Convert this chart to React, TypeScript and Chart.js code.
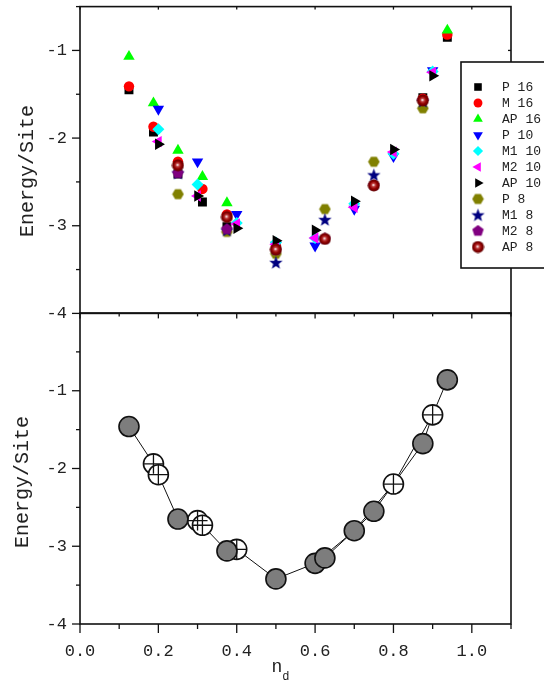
import React, { useEffect, useRef } from 'react';
import { Chart, registerables } from 'chart.js';
import { drawPoint } from 'chart.js/helpers';

Chart.register(...registerables);

const FONT = '"Liberation Mono", "Courier New", monospace';

// ---------- top panel data ----------
const N16 = [0.125, 0.1875, 0.25, 0.3125, 0.375, 0.5, 0.875, 0.9375];
const P16_Y = [-1.45, -1.93, -2.41, -2.73, -3.01, -3.25, -1.54, -0.85];
const M16_Y = [-1.41, -1.87, -2.27, -2.58, -2.87, -3.24, -1.55, -0.82];
const AP16_X = [0.125, 0.1875, 0.25, 0.3125, 0.375, 0.9375];
const AP16_Y = [-1.07, -1.6, -2.14, -2.44, -2.74, -0.77];
const N10 = [0.2, 0.3, 0.4, 0.5, 0.6, 0.7, 0.8, 0.9];
const P10_Y = [-1.67, -2.27, -2.87, -3.22, -3.23, -2.81, -2.21, -1.23];
const M1_10_Y = [-1.9, -2.53, -2.97, -3.19, -3.14, -2.75, -2.18, -1.24];
const M2_10_Y = [-2.04, -2.66, -2.98, -3.21, -3.14, -2.79, -2.16, -1.25];
const AP10_Y = [-2.07, -2.66, -3.03, -3.17, -3.05, -2.72, -2.13, -1.29];
const N8 = [0.25, 0.375, 0.5, 0.625, 0.75, 0.875];
const P8_Y = [-2.64, -3.07, -3.32, -2.81, -2.27, -1.66];
const M1_8_Y = [-2.4, -3.05, -3.42, -2.93, -2.42, -1.58];
const M2_8_Y = [-2.4, -3.04, -3.28, -3.15, -2.54, -1.57];
const AP8_Y = [-2.31, -2.9, -3.27, -3.15, -2.54, -1.57];

const LEGEND_LABELS = ['P 16', 'M 16', 'AP 16', 'P 10', 'M1 10', 'M2 10', 'AP 10', 'P 8', 'M1 8', 'M2 8', 'AP 8'];

// ---------- bottom panel data ----------
const FILLED_X = [0.125, 0.25, 0.375, 0.5, 0.6, 0.625, 0.7, 0.75, 0.875, 0.9375];
const FILLED_Y = [-1.46, -2.65, -3.06, -3.42, -3.22, -3.15, -2.8, -2.55, -1.68, -0.86];
const OPEN_X = [0.1875, 0.2, 0.3, 0.3125, 0.4, 0.8, 0.9];
const OPEN_Y = [-1.94, -2.08, -2.67, -2.73, -3.04, -2.2, -1.31];
const LINE2_X = [0.6, 0.7, 0.8, 0.9];
const LINE2_Y = [-3.22, -2.8, -2.2, -1.31];

// ---------- ticks ----------
const X_MAJOR = [0, 0.2, 0.4, 0.6, 0.8, 1.0];
const X_MINOR = [0.1, 0.3, 0.5, 0.7, 0.9, 1.1];
const Y_MAJOR = [-4, -3, -2, -1];
const Y_MINOR = [-3.5, -2.5, -1.5, -0.5];

const pts = (xs: number[], ys: number[]) => xs.map((x, i) => ({ x, y: ys[i] }));

function marker(size: number, draw: (g: CanvasRenderingContext2D, c: number) => void) {
  const c = document.createElement('canvas');
  c.width = size;
  c.height = size;
  const g = c.getContext('2d')!;
  draw(g, size / 2);
  return c;
}

function polygon(g: CanvasRenderingContext2D, c: number, n: number, r: number, start: number) {
  g.beginPath();
  for (let i = 0; i < n; i++) {
    const a = start + (i * 2 * Math.PI) / n;
    const px = c + r * Math.cos(a);
    const py = c + r * Math.sin(a);
    if (i === 0) g.moveTo(px, py);
    else g.lineTo(px, py);
  }
  g.closePath();
}

const tickLine = (ctx: CanvasRenderingContext2D, x1: number, y1: number, x2: number, y2: number) => {
  ctx.beginPath();
  ctx.moveTo(x1, y1);
  ctx.lineTo(x2, y2);
  ctx.stroke();
};

const fitY = (s: any) => {
  s.width = 80;
  s.paddingTop = 0;
  s.paddingBottom = 0;
};

export default function App() {
  const topRef = useRef<HTMLCanvasElement>(null);
  const botRef = useRef<HTMLCanvasElement>(null);

  useEffect(() => {
    const hexImg = marker(13, (g, c) => {
      g.fillStyle = '#808000';
      polygon(g, c, 6, 5.8, 0);
      g.fill();
    });
    const starImg = marker(15, (g, c) => {
      g.fillStyle = '#000080';
      g.beginPath();
      for (let i = 0; i < 10; i++) {
        const r = i % 2 === 0 ? 7 : 2.9;
        const a = -Math.PI / 2 + (i * Math.PI) / 5;
        const px = c + r * Math.cos(a);
        const py = c + 0.5 + r * Math.sin(a);
        if (i === 0) g.moveTo(px, py);
        else g.lineTo(px, py);
      }
      g.closePath();
      g.fill();
    });
    const pentImg = marker(13, (g, c) => {
      g.fillStyle = '#800080';
      polygon(g, c, 5, 6, -Math.PI / 2);
      g.fill();
    });
    const sphereImg = marker(13, (g, c) => {
      const grd = g.createRadialGradient(c - 0.5, c - 0.5, 0.3, c, c, 6);
      grd.addColorStop(0, '#ffffff');
      grd.addColorStop(0.25, '#c04040');
      grd.addColorStop(0.6, '#900000');
      grd.addColorStop(1, '#600000');
      g.fillStyle = grd;
      g.beginPath();
      g.arc(c, c, 6, 0, Math.PI * 2);
      g.fill();
    });

    const topSeries = [
      { x: N16, y: P16_Y, color: '#000000', style: 'rect', rot: 0, r: 6.3 },
      { x: N16, y: M16_Y, color: '#ff0000', style: 'circle', rot: 0, r: 5.2 },
      { x: AP16_X, y: AP16_Y, color: '#00ff00', style: 'triangle', rot: 0, r: 6.6 },
      { x: N10, y: P10_Y, color: '#0000ff', style: 'triangle', rot: 180, r: 6.6 },
      { x: N10, y: M1_10_Y, color: '#00ffff', style: 'rectRot', rot: 0, r: 6 },
      { x: N10, y: M2_10_Y, color: '#ff00ff', style: 'triangle', rot: 270, r: 6.6 },
      { x: N10, y: AP10_Y, color: '#000000', style: 'triangle', rot: 90, r: 6.6 },
      { x: N8, y: P8_Y, color: '#808000', style: hexImg as any, rot: 0, r: 6 },
      { x: N8, y: M1_8_Y, color: '#000080', style: starImg as any, rot: 0, r: 6 },
      { x: N8, y: M2_8_Y, color: '#800080', style: pentImg as any, rot: 0, r: 6 },
      { x: N8, y: AP8_Y, color: '#800000', style: sphereImg as any, rot: 0, r: 6 },
    ];

    const framePlugin = (opts: { top: boolean }) => ({
      id: 'frame' + (opts.top ? 'T' : 'B'),
      afterDraw(chart: any) {
        const { ctx, chartArea: a, scales } = chart;
        const sx = scales.x;
        const sy = scales.y;
        ctx.save();
        ctx.strokeStyle = '#111';
        ctx.lineWidth = 1.6;
        ctx.strokeRect(a.left, a.top, a.right - a.left, a.bottom - a.top);
        ctx.lineWidth = 1.3;
        // y ticks (outward, left)
        Y_MAJOR.forEach((v) => {
          const p = sy.getPixelForValue(v);
          tickLine(ctx, a.left - 8, p, a.left, p);
          if (opts.top) tickLine(ctx, a.right - 3, p, a.right, p);
        });
        Y_MINOR.forEach((v) => {
          const p = sy.getPixelForValue(v);
          tickLine(ctx, a.left - 4, p, a.left, p);
        });
        // x ticks (outward, down)
        const maj = opts.top ? 5 : 9;
        const min = opts.top ? 3 : 5;
        X_MAJOR.forEach((v) => {
          const p = sx.getPixelForValue(v);
          tickLine(ctx, p, a.bottom, p, a.bottom + maj);
          if (opts.top) tickLine(ctx, p, a.top, p, a.top + 3);
        });
        X_MINOR.forEach((v) => {
          const p = sx.getPixelForValue(v);
          tickLine(ctx, p, a.bottom, p, a.bottom + min);
        });
        // axis titles
        ctx.fillStyle = '#222';
        ctx.font = `20px ${FONT}`;
        ctx.textAlign = 'center';
        ctx.textBaseline = 'middle';
        ctx.save();
        if (opts.top) ctx.translate(28, 171);
        else ctx.translate(23, 482);
        ctx.rotate(-Math.PI / 2);
        ctx.fillText('Energy/Site', 0, 0);
        ctx.restore();
        if (!opts.top) {
          ctx.font = `18px ${FONT}`;
          ctx.fillText('n', sx.getPixelForValue(0.5) + 1, 667);
          ctx.font = `12px ${FONT}`;
          ctx.fillText('d', sx.getPixelForValue(0.5) + 10, 677);
        }
        ctx.restore();
      },
    });

    const legendPlugin = {
      id: 'boxLegend',
      afterDraw(chart: any) {
        const { ctx } = chart;
        ctx.save();
        ctx.fillStyle = '#fff';
        ctx.fillRect(461, 62, 100, 206);
        ctx.strokeStyle = '#111';
        ctx.lineWidth = 1.6;
        ctx.strokeRect(461, 62, 100, 206);
        ctx.font = `13px ${FONT}`;
        ctx.textAlign = 'left';
        ctx.textBaseline = 'middle';
        topSeries.forEach((s, i) => {
          const y = 87 + i * 16;
          ctx.fillStyle = s.color;
          ctx.strokeStyle = s.color;
          drawPoint(ctx, { pointStyle: s.style, rotation: s.rot, radius: s.r * 0.85, borderWidth: 0 } as any, 478, y);
          ctx.fillStyle = '#222';
          ctx.fillText(LEGEND_LABELS[i], 502, y + 1);
        });
        ctx.restore();
      },
    };

    const yTicks = (hideZero: boolean) => ({
      stepSize: 0.5,
      padding: 13,
      color: '#222',
      font: { family: FONT, size: 17 },
      callback: (v: any) => (Number.isInteger(v) && !(hideZero && v === 0) ? String(v) : ''),
    });

    const top = new Chart(topRef.current!, {
      type: 'scatter',
      data: {
        datasets: topSeries.map((s, i) => ({
          label: LEGEND_LABELS[i],
          data: pts(s.x, s.y),
          pointStyle: s.style,
          rotation: s.rot,
          pointRadius: s.r,
          pointHoverRadius: s.r,
          backgroundColor: s.color,
          borderColor: s.color,
          borderWidth: 0,
          order: -i,
        })),
      } as any,
      options: {
        responsive: false,
        animation: false,
        events: [],
        layout: { padding: { top: 5, right: 33, bottom: 6, left: 0 } },
        plugins: { legend: { display: false }, tooltip: { enabled: false } },
        scales: {
          x: { type: 'linear', display: false, min: 0, max: 1.1 },
          y: {
            type: 'linear',
            min: -4,
            max: -0.5,
            afterFit: fitY,
            grid: { display: false, drawTicks: false },
            border: { display: false },
            ticks: yTicks(false),
          },
        },
      } as any,
      plugins: [framePlugin({ top: true }), legendPlugin],
    });

    const allX = [...FILLED_X, ...OPEN_X];
    const allY = [...FILLED_Y, ...OPEN_Y];
    const allLine = allX
      .map((x, i) => ({ x, y: allY[i] }))
      .sort((p, q) => p.x - q.x);

    const bot = new Chart(botRef.current!, {
      type: 'scatter',
      data: {
        datasets: [
          { data: allLine, showLine: true, pointRadius: 0, borderColor: '#111', borderWidth: 1, order: 5 },
          { data: pts(LINE2_X, LINE2_Y), showLine: true, pointRadius: 0, borderColor: '#111', borderWidth: 1, order: 4 },
          {
            data: pts(OPEN_X, OPEN_Y),
            pointStyle: 'circle',
            pointRadius: 10,
            pointHoverRadius: 10,
            backgroundColor: '#ffffff',
            borderColor: '#111',
            borderWidth: 1.6,
            order: 3,
          },
          {
            data: pts(OPEN_X, OPEN_Y),
            pointStyle: 'cross',
            pointRadius: 10,
            pointHoverRadius: 10,
            borderColor: '#111',
            borderWidth: 1.3,
            order: 2,
          },
          {
            data: pts(FILLED_X, FILLED_Y),
            pointStyle: 'circle',
            pointRadius: 10,
            pointHoverRadius: 10,
            backgroundColor: '#7d7d7d',
            borderColor: '#111',
            borderWidth: 1.6,
            order: 1,
          },
        ],
      } as any,
      options: {
        responsive: false,
        animation: false,
        events: [],
        layout: { padding: { top: 313, right: 33, bottom: 0, left: 0 } },
        plugins: { legend: { display: false }, tooltip: { enabled: false } },
        scales: {
          x: {
            type: 'linear',
            min: 0,
            max: 1.1,
            afterFit: (s: any) => { s.height = 59; },
            grid: { display: false, drawTicks: false },
            border: { display: false },
            ticks: {
              stepSize: 0.1,
              autoSkip: false,
              maxRotation: 0,
              padding: 17,
              color: '#222',
              font: { family: FONT, size: 17 },
              callback: (v: any) => {
                const r = Math.round(v * 10);
                return r % 2 === 0 && r <= 10 ? (r / 10).toFixed(1) : '';
              },
            },
          },
          y: {
            type: 'linear',
            min: -4,
            max: 0,
            afterFit: fitY,
            grid: { display: false, drawTicks: false },
            border: { display: false },
            ticks: yTicks(true),
          },
        },
      } as any,
      plugins: [framePlugin({ top: false })],
    });

    return () => {
      top.destroy();
      bot.destroy();
    };
  }, []);

  return (
    <div style={{ position: 'absolute', left: 0, top: 0, width: 544, height: 683, background: '#fff' }}>
      <canvas ref={botRef} width={544} height={683} style={{ position: 'absolute', left: 0, top: 0, width: 544, height: 683 }} />
      <canvas ref={topRef} width={544} height={320} style={{ position: 'absolute', left: 0, top: 0, width: 544, height: 320 }} />
    </div>
  );
}
